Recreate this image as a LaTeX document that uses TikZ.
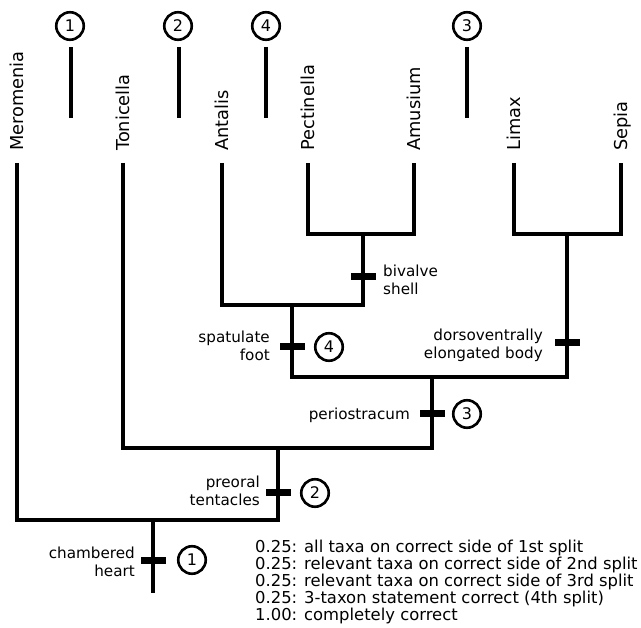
\documentclass[tikz,border=0pt]{standalone}
\usepackage{fontspec}
\setmainfont{DejaVu Sans}
\begin{document}
\begin{tikzpicture}[x=1pt,y=-1pt,
 branch/.style={line width=4.5pt, line join=miter},
 tickmark/.style={fill=black, minimum width=25pt, minimum height=7pt, inner sep=0pt},
 num/.style={circle, draw, line width=2.6pt, minimum size=27.5pt, inner sep=0pt, font=\fontsize{16}{16}\selectfont},
 taxon/.style={rotate=90, anchor=base west, inner sep=0pt, font=\fontsize{17.8}{20}\selectfont},
 lab/.style={inner sep=0pt, font=\fontsize{15.2}{18}\selectfont},
 ]
\useasboundingbox (0,0) rectangle (641,628);
% leaf tops
\coordinate (Mer) at (17,163);
\coordinate (Ton) at (123,163);
\coordinate (Ant) at (222,163);
\coordinate (Pec) at (308,163);
\coordinate (Amu) at (414,163);
\coordinate (Lim) at (514,163);
\coordinate (Sep) at (621,163);
% junctions
\coordinate (J1) at (363,234);
\coordinate (J3) at (567,234);
\coordinate (J2) at (292,305);
\coordinate (J4) at (432,377);
\coordinate (J5) at (278,448);
\coordinate (J6) at (153,520);
\coordinate (R) at (153,593);
% taxon labels
\node[taxon] (tMer) at (23.5,151) {Meromenia};
\node[taxon] (tTon) at (129.5,151) {Tonicella};
\node[taxon] (tAnt) at (228.5,151) {Antalis};
\node[taxon] (tPec) at (314.5,151) {Pectinella};
\node[taxon] (tAmu) at (420.5,151) {Amusium};
\node[taxon] (tLim) at (520.5,151) {Limax};
\node[taxon] (tSep) at (627.5,151) {Sepia};
% tree
\draw[branch] (Pec) |- (J1) -| (Amu);
\draw[branch] (Lim) |- (J3) -| (Sep);
\draw[branch] (Ant) |- (J2) -| (J1);
\draw[branch] (J2) |- (J4) -| (J3);
\draw[branch] (Ton) |- (J5) -| (J4);
\draw[branch] (Mer) |- (J6) -| (J5);
\draw[branch] (J6) -- (R);
% character ticks
\node[tickmark] (kBiv) at (363,277) {};
\node[tickmark] (kSpa) at (292,347) {};
\node[tickmark] (kDor) at (567,343) {};
\node[tickmark] (kPer) at (432,414) {};
\node[tickmark] (kPre) at (278,493) {};
\node[tickmark] (kCha) at (153,561) {};
% character labels
\node[lab, anchor=west, align=left] (lBiv) at (383,280) {bivalve\\shell};
\node[lab, anchor=east, align=right] (lSpa) at (270,346) {spatulate\\foot};
\node[lab, anchor=east, align=right] (lDor) at (543,345) {dorsoventrally\\elongated body};
\node[lab, anchor=east] (lPer) at (410,415) {periostracum};
\node[lab, anchor=east, align=right] (lPre) at (260,491) {preoral\\tentacles};
\node[lab, anchor=east, align=right] (lCha) at (135,562) {chambered\\heart};
% circled numbers on the tree
\node[num] (n4) at (329,347) {4};
\node[num] (n3) at (467,414) {3};
\node[num] (n2) at (315,493) {2};
\node[num] (n1) at (192,560) {1};
% circled numbers at the top
\node[num] (h1) at (70,26) {1};
\node[num] (h2) at (178,26) {2};
\node[num] (h4) at (266,26) {4};
\node[num] (h3) at (467,26) {3};
\coordinate (h1a) at (71,47); \coordinate (h1b) at (71,118);
\coordinate (h2a) at (179,47); \coordinate (h2b) at (179,118);
\coordinate (h4a) at (266,47); \coordinate (h4b) at (266,118);
\coordinate (h3a) at (467,47); \coordinate (h3b) at (467,118);
\draw[branch] (h1a) -- (h1b);
\draw[branch] (h2a) -- (h2b);
\draw[branch] (h4a) -- (h4b);
\draw[branch] (h3a) -- (h3b);
% legend
\node[anchor=north west, align=left, inner sep=0pt, font=\fontsize{16.4}{17}\selectfont] (leg) at (255,539.5)
 {0.25: all taxa on correct side of 1st split\\
  0.25: relevant taxa on correct side of 2nd split\\
  0.25: relevant taxa on correct side of 3rd split\\
  0.25: 3-taxon statement correct (4th split)\\
  1.00: completely correct};
\end{tikzpicture}
\end{document}
